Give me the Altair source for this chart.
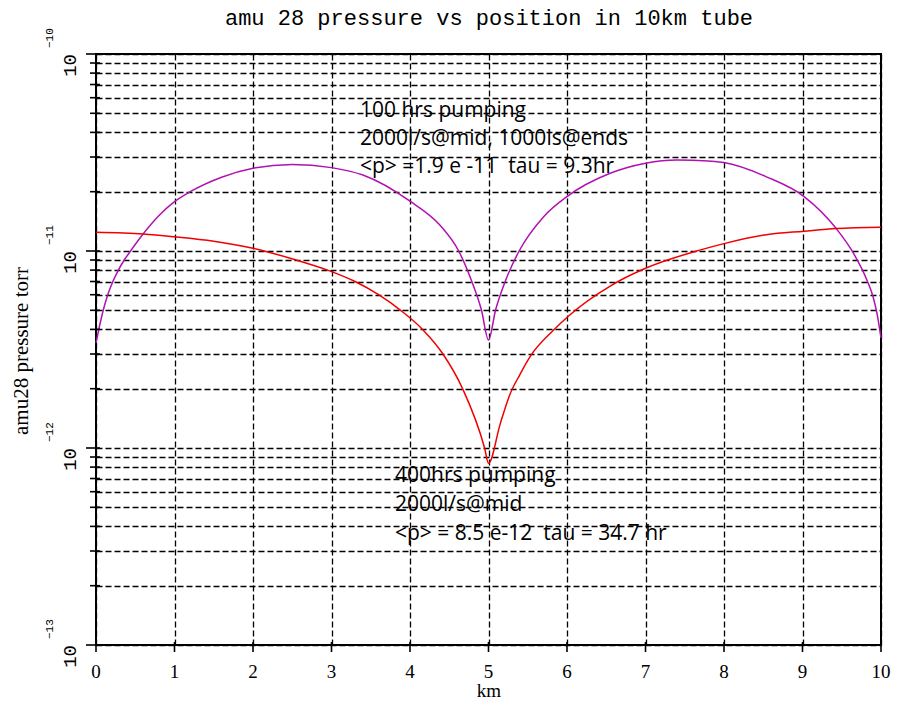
import altair as alt
import pandas as pd

# ---- data ----
km_purple = [0.0, 0.036, 0.092, 0.15, 0.215, 0.285, 0.36, 0.44, 0.6, 0.8, 1.0, 1.2, 1.6, 2.0, 2.5,
             3.0, 3.4, 4.0, 4.38, 4.62, 4.78, 4.91, 5.0, 5.09, 5.22, 5.39, 5.7, 6.0, 6.55, 7.0,
             7.4, 7.8, 8.0, 8.54, 9.02, 9.43, 9.65, 9.82, 9.9, 9.95, 10.0]
p_purple = [3.41e-12, 4.0e-12, 5.0e-12, 6.0e-12, 7.0e-12, 8.0e-12, 9.0e-12, 1.0e-11,
            1.22e-11, 1.51e-11, 1.78e-11, 2.00e-11, 2.37e-11, 2.63e-11, 2.75e-11,
            2.65e-11, 2.43e-11, 1.79e-11, 1.355e-11, 1.00e-11, 7.13e-12, 5.02e-12, 3.53e-12,
            5.02e-12, 7.13e-12, 1.0e-11, 1.49e-11, 1.89e-11, 2.48e-11, 2.79e-11,
            2.90e-11, 2.86e-11, 2.81e-11, 2.38e-11, 1.89e-11, 1.30e-11, 9.73e-12, 7.13e-12,
            5.84e-12, 4.79e-12, 3.62e-12]

km_red = [0.0, 0.6, 1.0, 1.5, 2.0, 2.55, 2.95, 3.3, 3.6, 3.88, 4.16, 4.42, 4.67, 4.95, 5.0,
          5.15, 5.27, 5.4, 5.53, 5.83, 6.02, 6.55, 7.0, 7.69, 8.0, 8.54, 9.02, 9.43, 10.0]
p_red = [1.245e-11, 1.22e-11, 1.18e-11, 1.12e-11, 1.032e-11, 9.0e-12, 8.0e-12, 7.0e-12,
         6.0e-12, 5.0e-12, 4.0e-12, 3.0e-12, 2.0e-12, 1.0e-12, 8.36e-13,
         1.33e-12, 1.86e-12, 2.36e-12, 2.91e-12, 3.97e-12, 4.68e-12, 6.64e-12, 8.17e-12, 1.01e-11,
         1.09e-11, 1.21e-11, 1.26e-11, 1.30e-11, 1.32e-11]

y_major = [1e-13, 1e-12, 1e-11, 1e-10]
y_major_base = ["10", "10", "10", "10"]
y_major_exp = ["\u221213", "\u221212", "\u221211", "\u221210"]
y_minor = [k * 10.0 ** e for e in (-13, -12, -11) for k in range(2, 10)]
x_ticks = list(range(0, 11))
x_tick_labels = [str(v) for v in x_ticks]

title_text = "amu 28 pressure vs position in 10km tube"
y_title = "amu28 pressure torr"
x_title = "km"
note_100 = ["100 hrs pumping", "2000l/s@mid, 1000ls@ends", "<p> =1.9 e -11 \u00a0tau = 9.3hr"]
note_400 = ["400hrs pumping", "2000l/s@mid", "<p> = 8.5 e-12 \u00a0tau = 34.7 hr"]

# ---- chart ----
W, H = 785, 591
xs = alt.Scale(domain=[0, 10], nice=False, zero=False)
ys = alt.Scale(type="log", domain=[1e-13, 1e-10], nice=False)
grid_kw = dict(grid=True, gridDash=[6, 3], gridColor="black", gridWidth=1.3,
               labels=False, ticks=False, domain=False, title=None)
xaxis = alt.Axis(values=x_ticks, **grid_kw)
yaxis = alt.Axis(values=y_major + y_minor, **grid_kw)


def X(f="km"):
    return alt.X(f"{f}:Q", scale=xs, axis=xaxis)


def Y(f="p"):
    return alt.Y(f"{f}:Q", scale=ys, axis=yaxis)


one = pd.DataFrame({"d": [0]})

df_p = pd.DataFrame({"km": km_purple, "p": p_purple})
df_r = pd.DataFrame({"km": km_red, "p": p_red})

purple = alt.Chart(df_p).mark_line(color="#b012b0", strokeWidth=1.5, interpolate="monotone").encode(x=X(), y=Y())
red = alt.Chart(df_r).mark_line(color="#f00000", strokeWidth=1.5, interpolate="monotone").encode(x=X(), y=Y())

df_major = pd.DataFrame({"p": y_major, "base": y_major_base, "exp": y_major_exp})
df_minor = pd.DataFrame({"p": y_minor})
df_x = pd.DataFrame({"km": x_ticks, "lab": x_tick_labels})

ytick_major = alt.Chart(df_major).mark_rule(color="black", strokeWidth=1.6).encode(
    y=Y(), x=alt.value(-10), x2=alt.value(4))
ytick_minor = alt.Chart(df_minor).mark_rule(color="black", strokeWidth=1.6).encode(
    y=Y(), x=alt.value(-6), x2=alt.value(4))
xtick = alt.Chart(df_x).mark_rule(color="black", strokeWidth=1.6).encode(
    x=X(), y=alt.value(588), y2=alt.value(598))

ylab = alt.Chart(df_major).mark_text(angle=270, align="right", baseline="middle",
                                      font="Liberation Mono", fontSize=19, color="black").encode(
    y=Y(), x=alt.value(-26), text="base:N")
yexp = alt.Chart(df_major).mark_text(angle=270, align="left", baseline="middle", dx=6,
                                      font="Liberation Mono", fontSize=11, color="black").encode(
    y=Y(), x=alt.value(-46), text="exp:N")
xlab = alt.Chart(df_x).mark_text(baseline="middle", font="Liberation Serif", fontSize=19,
                                  color="black").encode(x=X(), y=alt.value(618), text="lab:N")

title = alt.Chart(one).mark_text(text=title_text, font="Liberation Mono", fontSize=22,
                                 color="black", baseline="middle").encode(
    x=alt.value(393), y=alt.value(-36))
ytitle = alt.Chart(one).mark_text(text=y_title, angle=270, font="Liberation Serif", fontSize=21,
                                  color="black", baseline="middle", align="center").encode(
    x=alt.value(-74), y=alt.value(297))
xtitle = alt.Chart(one).mark_text(text=x_title, font="Liberation Serif", fontSize=19,
                                  color="black", baseline="alphabetic").encode(
    x=alt.value(393), y=alt.value(643))

ann1 = alt.Chart(one).mark_text(text=note_100, font="Open Sans", fontSize=21, color="black",
                                align="left", baseline="alphabetic", lineHeight=28).encode(
    x=alt.value(264), y=alt.value(63))
ann2 = alt.Chart(one).mark_text(text=note_400, font="Open Sans", fontSize=21, color="black",
                                align="left", baseline="alphabetic", lineHeight=29).encode(
    x=alt.value(299), y=alt.value(428))

chart = alt.layer(
    purple, red, ytick_major, ytick_minor, xtick, ylab, yexp, xlab, title, ytitle, xtitle, ann1, ann2
).properties(
    width=W, height=H,
    padding={"left": 88, "top": 46, "right": 12, "bottom": 60},
    autosize=alt.AutoSizeParams(type="none"),
    background="white",
).configure_view(stroke="black", strokeWidth=2)

chart.save("out.html", embed_options={"renderer": "svg", "actions": False})
